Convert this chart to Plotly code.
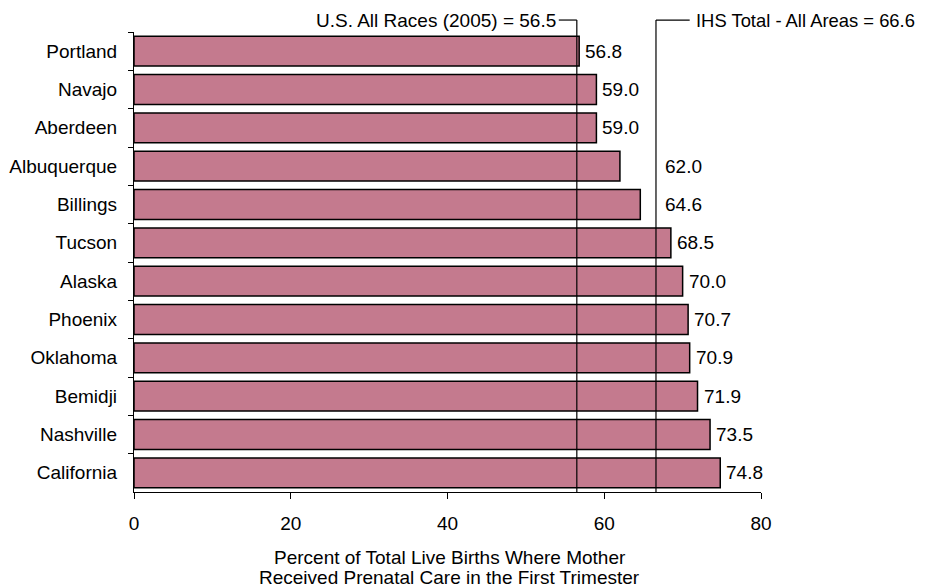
import plotly.graph_objects as go

regions = ["Portland", "Navajo", "Aberdeen", "Albuquerque", "Billings", "Tucson",
           "Alaska", "Phoenix", "Oklahoma", "Bemidji", "Nashville", "California"]
values = [56.8, 59.0, 59.0, 62.0, 64.6, 68.5, 70.0, 70.7, 70.9, 71.9, 73.5, 74.8]
us_rate = 56.5
ihs_rate = 66.6
us_label = "U.S. All Races (2005) = 56.5"
ihs_label = "IHS Total - All Areas = 66.6"
x_title_lines = ["Percent of Total Live Births Where Mother",
                 "Received Prenatal Care in the First Trimester"]
x_ticks = [0, 20, 40, 60, 80]

FONT = "Liberation Sans, Arial, sans-serif"
FS = 19
BAR_COLOR = "#C47A8E"

fig = go.Figure()
fig.add_trace(go.Bar(
    x=values, y=regions, orientation="h",
    marker=dict(color=BAR_COLOR, line=dict(color="black", width=1.5)),
    width=0.78, hoverinfo="x+y",
))

top = 1.026
# reference lines
for xv in (us_rate, ihs_rate):
    fig.add_shape(type="line", xref="x", yref="paper", x0=xv, x1=xv, y0=0, y1=top,
                  line=dict(color="black", width=1.2))
fig.add_shape(type="line", xref="x", yref="paper", x0=us_rate - 2.3, x1=us_rate, y0=top, y1=top,
              line=dict(color="black", width=1.2))
fig.add_shape(type="line", xref="x", yref="paper", x0=ihs_rate, x1=ihs_rate + 4.3, y0=top, y1=top,
              line=dict(color="black", width=1.2))
fig.add_annotation(x=us_rate - 2.3, y=top, xref="x", yref="paper", text=us_label,
                   showarrow=False, xanchor="right", yanchor="middle", xshift=-1,
                   font=dict(family=FONT, size=FS, color="black"))
fig.add_annotation(x=ihs_rate + 4.3, y=top, xref="x", yref="paper", text=ihs_label,
                   showarrow=False, xanchor="left", yanchor="middle", xshift=4,
                   font=dict(family=FONT, size=18.4, color="black"))

# value labels; move past the IHS line if they would overlap it
label_w = 4.6
for r, v in zip(regions, values):
    if v < ihs_rate and v + 0.6 + label_w > ihs_rate:
        xpos, shift = ihs_rate, 7
    else:
        xpos, shift = v, 4
    fig.add_annotation(x=xpos, y=r, text=f"{v:.1f}", showarrow=False, xanchor="left",
                       yanchor="middle", xshift=shift,
                       font=dict(family=FONT, size=FS, color="black"))

# x-axis title, two lines with tight spacing
for i, line in enumerate(x_title_lines):
    fig.add_annotation(x=0.5, y=-0.143 - i * 0.042, xref="paper", yref="paper", text=line,
                       showarrow=False, xanchor="center", yanchor="middle", xshift=2,
                       font=dict(family=FONT, size=FS, color="black"))

fig.update_layout(
    width=928, height=588,
    margin=dict(l=126, r=175, t=24, b=104, autoexpand=False),
    plot_bgcolor="white", paper_bgcolor="white",
    showlegend=False,
    font=dict(family=FONT, size=FS, color="black"),
    xaxis=dict(range=[0, 80], tickvals=x_ticks, showgrid=False, zeroline=False,
               showline=True, linecolor="black", linewidth=1.2,
               ticks="outside", ticklen=6, tickcolor="black",
               tickfont=dict(size=FS), automargin=False, ticklabelstandoff=8),
    yaxis=dict(autorange="reversed", showgrid=False, zeroline=False,
               showline=True, linecolor="black", linewidth=1.2, automargin=False,
               ticks="outside", ticklen=5, tickcolor="black", tickson="boundaries",
               tickfont=dict(size=FS), ticklabelstandoff=12),
)

fig.write_html("out.html")
